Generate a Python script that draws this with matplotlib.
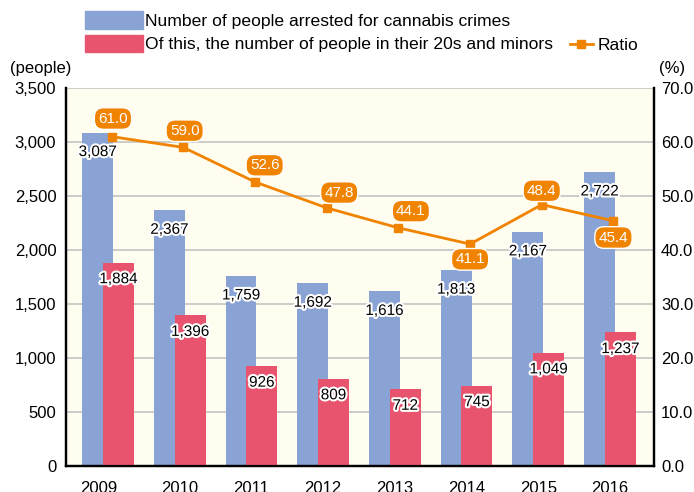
import numpy as np
import matplotlib
matplotlib.use("Agg")
import matplotlib.pyplot as plt
import matplotlib.patheffects as pe
import matplotlib.transforms as mtransforms
from matplotlib.patches import Patch
from matplotlib.lines import Line2D

plt.rcParams["font.family"] = ["Liberation Sans", "DejaVu Sans"]

# ── Data ──────────────────────────────────────────────────────────────────────
years = ["2009", "2010", "2011", "2012", "2013", "2014", "2015", "2016"]
arrested = [3087, 2367, 1759, 1692, 1616, 1813, 2167, 2722]
young = [1884, 1396, 926, 809, 712, 745, 1049, 1237]
ratio = [61.0, 59.0, 52.6, 47.8, 44.1, 41.1, 48.4, 45.4]

label_arrested = "Number of people arrested for cannabis crimes"
label_young = "Of this, the number of people in their 20s and minors"
label_ratio = "Ratio"

# label offsets for ratio boxes (points)
ratio_offsets = [(1, 13), (1, 12), (7, 12), (9, 11), (9, 12), (0, -11), (0, 10), (0, -12)]

# ── Style ─────────────────────────────────────────────────────────────────────
c_blue = "#8aa3d5"
c_red = "#e8546d"
c_orange = "#f08300"
c_bg = "#fffdf0"

fig = plt.figure(figsize=(6.94, 4.92), dpi=100)
ax = fig.add_axes([66 / 694, 26 / 492, 588 / 694, 378 / 492])
ax.set_facecolor(c_bg)

x = np.arange(len(years))
w = 0.43
off = 0.145
ax.bar(x - off, arrested, width=w, color=c_blue, zorder=2)
ax.bar(x + off, young, width=w, color=c_red, zorder=3)

stroke = [pe.withStroke(linewidth=3, foreground="white")]
for xi, v in zip(x, arrested):
    ax.annotate(f"{v:,}", (xi - off, v), xytext=(0, -14), textcoords="offset points",
                ha="center", va="center", fontsize=11, path_effects=stroke, zorder=5)
for xi, v in zip(x, young):
    ax.annotate(f"{v:,}", (xi + off, v), xytext=(0, -12), textcoords="offset points",
                ha="center", va="center", fontsize=11, path_effects=stroke, zorder=5)

ax.set_ylim(0, 3500)
ax.set_yticks(np.arange(0, 3501, 500))
ax.set_yticklabels([f"{t:,}" for t in range(0, 3501, 500)])
ax.set_xlim(-0.586, 7.615)
ax.set_xticks(x)
ax.set_xticklabels(years)
ax.grid(axis="y", color="#c4c4c4", lw=1.2, zorder=0)
ax.set_axisbelow(True)
ax.tick_params(length=0, labelsize=12)
ax.tick_params(axis="y", pad=7)
ax.tick_params(axis="x", pad=11)
for s in ["left", "bottom", "right"]:
    ax.spines[s].set_linewidth(1.6)
ax.spines["top"].set_visible(False)
# first year label sits a little left in the original
lbl0 = ax.get_xticklabels()[0]
lbl0.set_transform(lbl0.get_transform() +
                   mtransforms.ScaledTranslation(-9 / 100, 0, fig.dpi_scale_trans))

ax2 = ax.twinx()
ax2.set_ylim(0, 70)
ax2.set_yticks(np.arange(0, 71, 10))
ax2.set_yticklabels([f"{t:.1f}" for t in range(0, 71, 10)])
ax2.tick_params(length=0, labelsize=12, pad=5)
for s in ["left", "bottom", "right"]:
    ax2.spines[s].set_linewidth(1.6)
ax2.spines["top"].set_visible(False)

ax2.plot(x + 0.05, ratio, color=c_orange, lw=2, marker="s", ms=6, zorder=4)
for xi, v, (dx, dy) in zip(x, ratio, ratio_offsets):
    ax2.annotate(f"{v:.1f}", (xi + 0.05, v), xytext=(dx, dy), textcoords="offset points",
                 ha="center", va="center", fontsize=11, color="white",
                 bbox=dict(boxstyle="round,pad=0.25,rounding_size=0.6", fc=c_orange,
                           ec="white", lw=1), zorder=6)

fig.text(10 / 694, 1 - 68 / 492, "(people)", fontsize=12, va="center", ha="left")
fig.text(685 / 694, 1 - 68 / 492, "(%)", fontsize=12, va="center", ha="right")

h1 = [Patch(color=c_blue, label=label_arrested), Patch(color=c_red, label=label_young)]
fig.legend(handles=h1, loc="upper left", bbox_to_anchor=(85 / 694, 1 - 11 / 492),
           frameon=False, borderpad=0, borderaxespad=0, handlelength=3.3,
           handleheight=1.2, handletextpad=0.12, labelspacing=0.32, fontsize=12.6)
h2 = [Line2D([], [], color=c_orange, lw=2, marker="s", ms=6, label=label_ratio)]
fig.legend(handles=h2, loc="center left", bbox_to_anchor=(570 / 694, 1 - 45 / 492),
           frameon=False, borderpad=0, borderaxespad=0, handlelength=1.3,
           handletextpad=0.3, fontsize=12.6)

fig.savefig("out.png", dpi=100)
